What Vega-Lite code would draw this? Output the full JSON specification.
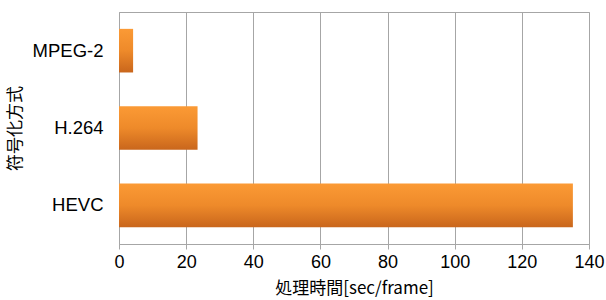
{
  "$schema": "https://vega.github.io/schema/vega-lite/v6.json",
  "width": 470,
  "height": 232,
  "autosize": {"type": "none"},
  "padding": {"left": 119, "top": 12, "right": 17, "bottom": 56},
  "background": "white",
  "config": {
    "font": "Liberation Sans, Noto Sans CJK JP",
    "view": {"stroke": "#a6a6a6", "strokeWidth": 1}
  },
  "data": {
    "values": [
      {"method": "MPEG-2", "time": 4.2},
      {"method": "H.264", "time": 23.4},
      {"method": "HEVC", "time": 135.2}
    ]
  },
  "mark": {
    "type": "bar",
    "color": {
      "gradient": "linear",
      "x1": 0, "y1": 0, "x2": 0, "y2": 1,
      "stops": [
        {"offset": 0, "color": "#fb9a35"},
        {"offset": 0.5, "color": "#ee8a2a"},
        {"offset": 1, "color": "#c9661c"}
      ]
    }
  },
  "encoding": {
    "y": {
      "field": "method",
      "type": "nominal",
      "sort": ["MPEG-2", "H.264", "HEVC"],
      "scale": {"paddingInner": 0.436, "paddingOuter": 0.218},
      "axis": {
        "title": "符号化方式",
        "titleFont": "Noto Sans CJK JP",
        "titleFontSize": 17,
        "titleFontWeight": "normal",
        "titleColor": "#000000",
        "titlePadding": 8,
        "labelFontSize": 18.5,
        "labelColor": "#000000",
        "labelPadding": 16,
        "ticks": false,
        "domainColor": "#a6a6a6",
        "grid": false
      }
    },
    "x": {
      "field": "time",
      "type": "quantitative",
      "scale": {"domain": [0, 140], "nice": false},
      "axis": {
        "values": [0, 20, 40, 60, 80, 100, 120, 140],
        "title": "処理時間[sec/frame]",
        "titleFont": "Noto Sans CJK JP",
        "titleFontSize": 17,
        "titleFontWeight": "normal",
        "titleColor": "#000000",
        "titlePadding": 9,
        "labelFontSize": 18,
        "labelColor": "#000000",
        "labelPadding": 4,
        "labelFlush": false,
        "tickSize": 5,
        "tickColor": "#a6a6a6",
        "domainColor": "#a6a6a6",
        "gridColor": "#a6a6a6",
        "gridOpacity": 1
      }
    }
  }
}
